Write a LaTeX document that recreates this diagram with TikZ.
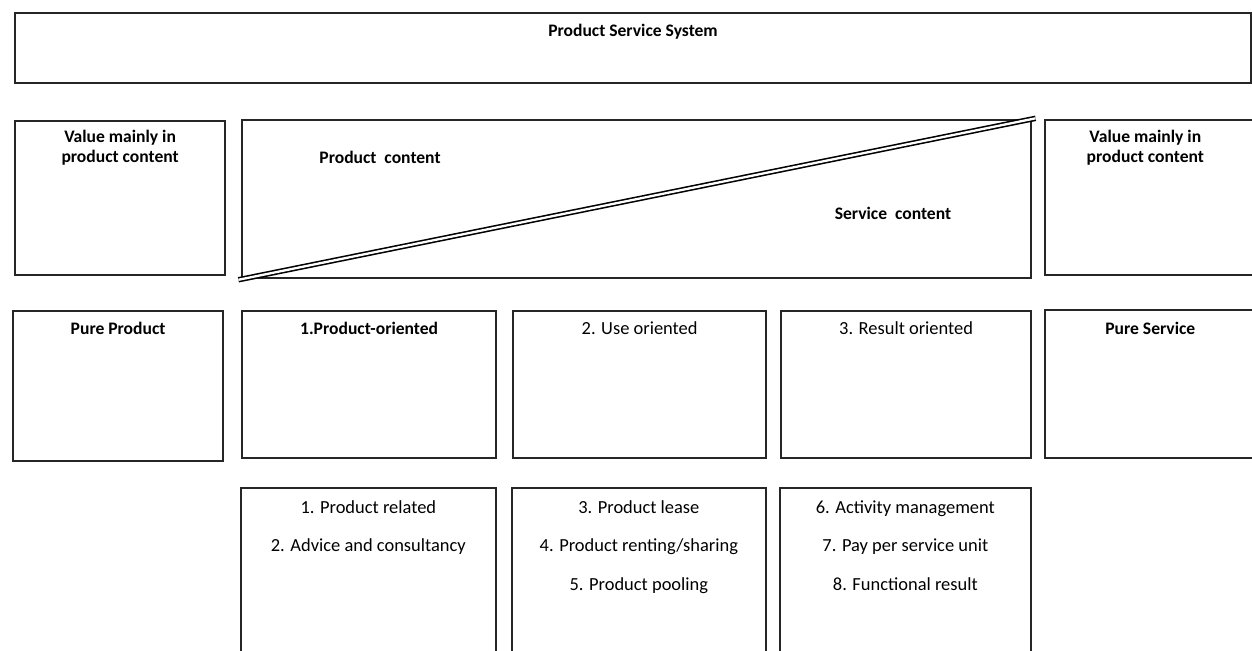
\documentclass[tikz,border=0pt]{standalone}
\usepackage{fontspec}
\setmainfont{Carlito}
\usetikzlibrary{positioning}

\begin{document}
\begin{tikzpicture}[
        x=0.02cm, y=-0.02cm,
        box/.style={rectangle, draw=black!85, line width=1.3pt, anchor=north west, inner sep=0pt},
        openbox/.style={rectangle, anchor=north west, inner sep=0pt},
        frame/.style={draw=black!85, line width=1.3pt},
        head/.style={font=\bfseries\fontsize{10}{11}\selectfont, align=center, inner sep=0pt},
        item/.style={font=\fontsize{10.5}{11}\selectfont, inner sep=0pt, anchor=base}
    ]

    \useasboundingbox (0,0) rectangle (1252,650);

    % top band
    \node[box, minimum width=24.72cm, minimum height=1.4cm] (pss) at (14,12) {};
    \node[head, anchor=base] (psstext) at ([yshift=-0.48cm]pss.north) {Product Service System};

    % value row
    \node[box, minimum width=4.2cm, minimum height=3.08cm] (valP) at (14,120) {};
    \node[openbox, minimum width=4.2cm, minimum height=3.08cm] (valS) at (1045,120) {};
    \draw[frame] (valS.north east) -- (valS.north west) -- (valS.south west) -- (valS.south east);
    \node[box, minimum width=15.78cm, minimum height=3.16cm] (mix) at (241,119) {};

    \node[head, below=0.2cm of valP.north, anchor=north] (valPtext) {Value mainly in\\product content};
    \node[head, below=0.2cm of valS.north, anchor=north, xshift=-0.1cm] (valStext) {Value mainly in\\product content};

    \draw[line width=0.9pt, double distance=1.3pt, shorten <=-1.5pt, shorten >=-2pt]
        (mix.south west) -- (mix.north east);
    \node[head, anchor=base] (prodc) at (380,163) {Product\ \ content};
    \node[head, anchor=base] (servc) at (893,219) {Service\ \ content};

    % categories
    \node[box, minimum width=4.2cm, minimum height=3cm] (pureP) at (12,310) {};
    \node[box, minimum width=5.08cm, minimum height=2.94cm] (prodO) at (241,310) {};
    \node[box, minimum width=5.06cm, minimum height=2.94cm] (useO) at (512,310) {};
    \node[box, minimum width=5cm, minimum height=2.94cm] (resO) at (780,310) {};
    \node[openbox, minimum width=4.2cm, minimum height=2.94cm] (pureS) at (1045,310) {};
    \draw[frame] (pureS.north east) -- (pureS.north west) -- (pureS.south west) -- (pureS.south east);

    \node[head, anchor=base] (purePtext) at ([yshift=-0.48cm]pureP.north) {Pure Product};
    \node[head, anchor=base] (prodOtext) at ([yshift=-0.48cm]prodO.north) {1.Product-oriented};
    \node[item] (useOtext) at ([yshift=-0.48cm]useO.north) {2. Use oriented};
    \node[item] (resOtext) at ([yshift=-0.48cm]resO.north) {3. Result oriented};
    \node[head, anchor=base] (pureStext) at ([yshift=-0.48cm]pureS.north) {Pure Service};

    % sub types
    \node[openbox, minimum width=5.08cm, minimum height=3.3cm] (subA) at (241,488) {};
    \node[openbox, minimum width=5.06cm, minimum height=3.3cm] (subB) at (512,488) {};
    \node[openbox, minimum width=5cm, minimum height=3.3cm] (subC) at (780,488) {};
    \foreach \s in {subA, subB, subC}
        \draw[frame] (\s.south west) |- (\s.north east) -- (\s.south east);

    \node[item] (a1) at ([yshift=-0.5cm]subA.north) {1. Product related};
    \node[item] (a2) at ([yshift=-0.78cm]a1.base) {2. Advice and consultancy};

    \node[item] (b1) at ([yshift=-0.5cm]subB.north) {3. Product lease};
    \node[item] (b2) at ([yshift=-0.78cm]b1.base) {4. Product renting/sharing};
    \node[item] (b3) at ([yshift=-0.78cm]b2.base) {5. Product pooling};

    \node[item] (c1) at ([yshift=-0.5cm]subC.north) {6. Activity management};
    \node[item] (c2) at ([yshift=-0.78cm]c1.base) {7. Pay per service unit};
    \node[item] (c3) at ([yshift=-0.78cm]c2.base) {8. Functional result};
\end{tikzpicture}
\end{document}
